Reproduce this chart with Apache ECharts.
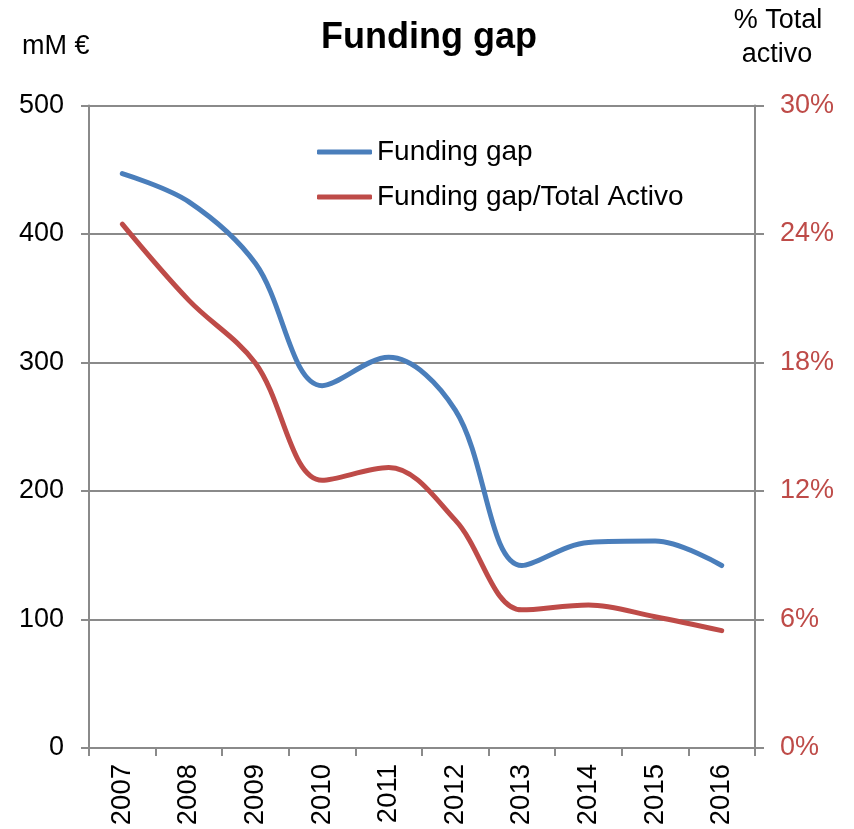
<!DOCTYPE html>
<html><head><meta charset="utf-8">
<script src="https://cdn.jsdelivr.net/npm/echarts@6/dist/echarts.min.js"></script>
<style>html,body{margin:0;padding:0;background:#fff}#c{width:854px;height:829px}</style>
</head><body><div id="c"></div>
<script>
const years = ['2007','2008','2009','2010','2011','2012','2013','2014','2015','2016'];
const fundingGap = [447, 425, 377, 282, 304, 263, 142, 160, 161, 142];
const gapPct = [24.46, 20.9, 17.97, 12.5, 13.1, 10.64, 6.45, 6.68, 6.13, 5.48];
const leftTicks = [0, 100, 200, 300, 400, 500];
const rightTicks = [0, 6, 12, 18, 24, 30];

const FONT = '"Liberation Sans", Arial, sans-serif';
const BLUE = '#4A7EBB', RED = '#BE4B48', GRID = '#8a8a8a';
const chart = echarts.init(document.getElementById('c'));
chart.setOption({
  backgroundColor: '#fff',
  animation: false,
  graphic: [
    {type: 'text', x: 429, y: 38, style: {text: 'Funding gap', font: 'bold 36px ' + FONT, fill: '#000', align: 'center', verticalAlign: 'middle'}},
    {type: 'text', x: 22, y: 47, style: {text: 'mM €', font: '27px ' + FONT, fill: '#000', align: 'left', verticalAlign: 'middle'}},
    {type: 'text', x: 778, y: 21, style: {text: '% Total', font: '27px ' + FONT, fill: '#000', align: 'center', verticalAlign: 'middle'}},
    {type: 'text', x: 777, y: 55, style: {text: 'activo', font: '27px ' + FONT, fill: '#000', align: 'center', verticalAlign: 'middle'}}
  ],
  legend: {
    orient: 'vertical', left: 317, top: 138, padding: 0, itemWidth: 55, itemHeight: 5, itemGap: 17,
    icon: 'roundRect',
    textStyle: {fontFamily: FONT, fontSize: 28, color: '#000'},
    data: ['Funding gap', 'Funding gap/Total Activo']
  },
  grid: {left: 89, right: 99, top: 105.5, bottom: 81},
  xAxis: {
    type: 'category', data: years, boundaryGap: true,
    axisLine: {lineStyle: {color: GRID, width: 2}},
    axisTick: {show: true, length: 8, lineStyle: {color: GRID, width: 2}},
    axisLabel: {rotate: 90, fontFamily: FONT, fontSize: 27.5, color: '#000', margin: 16}
  },
  yAxis: [
    {
      type: 'value', min: leftTicks[0], max: leftTicks[leftTicks.length-1], interval: 100,
      axisLine: {show: true, lineStyle: {color: GRID, width: 2}},
      axisTick: {show: true, length: 8, lineStyle: {color: GRID, width: 2}},
      splitLine: {lineStyle: {color: GRID, width: 2}},
      axisLabel: {fontFamily: FONT, fontSize: 27, color: '#000', margin: 25}
    },
    {
      type: 'value', min: rightTicks[0], max: rightTicks[rightTicks.length-1], interval: 6,
      position: 'right',
      axisLine: {show: true, lineStyle: {color: GRID, width: 2}},
      axisTick: {show: true, length: 9, lineStyle: {color: GRID, width: 2}},
      splitLine: {show: false},
      axisLabel: {fontFamily: FONT, fontSize: 27, color: RED, margin: 25, formatter: '{value}%'}
    }
  ],
  series: [
    {name: 'Funding gap', type: 'line', data: fundingGap, yAxisIndex: 0, smooth: 0.35,
     symbol: 'none', lineStyle: {color: BLUE, width: 5, cap: 'round'}, itemStyle: {color: BLUE}},
    {name: 'Funding gap/Total Activo', type: 'line', data: gapPct, yAxisIndex: 1, smooth: 0.35,
     symbol: 'none', lineStyle: {color: RED, width: 5, cap: 'round'}, itemStyle: {color: RED}}
  ]
});
</script></body></html>
